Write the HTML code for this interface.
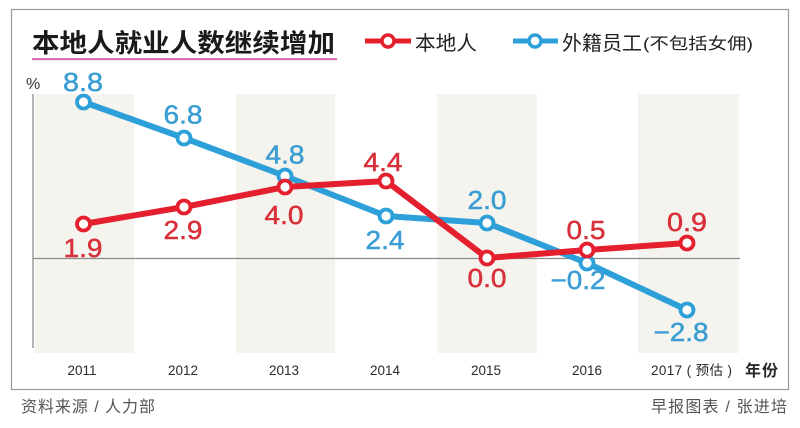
<!DOCTYPE html>
<html><head><meta charset="utf-8"><style>
html,body{margin:0;padding:0;background:#fff;}
svg{display:block;}
</style></head><body>
<svg width="800" height="428" viewBox="0 0 800 428" xmlns="http://www.w3.org/2000/svg">
<rect x="0" y="0" width="800" height="428" fill="#ffffff"/>
<rect x="11.5" y="9.5" width="777" height="380" fill="#fff" stroke="#9a9a9a" stroke-width="1.2"/>
<!-- bands -->
<g fill="#f4f3ee">
<rect x="35" y="94" width="99" height="259"/>
<rect x="236" y="94" width="99" height="259"/>
<rect x="437" y="94" width="100" height="259"/>
<rect x="638" y="94" width="101" height="259"/>
</g>
<!-- title -->
<text x="32" y="52" font-family="Liberation Sans, Noto Sans CJK SC, sans-serif" font-weight="bold" font-size="25.5" fill="#1a1a1a" textLength="303" lengthAdjust="spacingAndGlyphs">本地人就业人数继续增加</text>
<rect x="32" y="58" width="305" height="2.2" fill="#d772b8"/>
<!-- legend -->
<line x1="365" y1="41" x2="411" y2="41" stroke="#e4202e" stroke-width="5"/>
<circle cx="388" cy="41" r="6" fill="#fff" stroke="#e4202e" stroke-width="3.5"/>
<text x="415" y="50" font-family="Liberation Sans, Noto Sans CJK SC, sans-serif" font-size="20" fill="#222" textLength="62" lengthAdjust="spacingAndGlyphs">本地人</text>
<line x1="513" y1="41" x2="558" y2="41" stroke="#2d9fd9" stroke-width="5"/>
<circle cx="535" cy="41" r="6" fill="#fff" stroke="#2d9fd9" stroke-width="3.5"/>
<text x="562" y="50" font-family="Liberation Sans, Noto Sans CJK SC, sans-serif" font-size="20" fill="#222" textLength="80" lengthAdjust="spacingAndGlyphs">外籍员工</text>
<text x="643" y="49" font-family="Liberation Sans, Noto Sans CJK SC, sans-serif" font-size="16" fill="#222" textLength="110" lengthAdjust="spacingAndGlyphs">(不包括女佣)</text>
<!-- axis -->
<text x="26" y="89" font-family="Liberation Sans, sans-serif" font-size="16" fill="#333">%</text>
<line x1="33" y1="94" x2="33" y2="348" stroke="#999" stroke-width="1.5"/>
<line x1="33" y1="258.5" x2="740" y2="258.5" stroke="#8a8a8a" stroke-width="1.2"/>
<!-- blue series -->
<polyline points="83.5,102 184,138 285,176 386,216 487,223 587,263 687,310" fill="none" stroke="#2d9fd9" stroke-width="6" stroke-linejoin="round"/>
<g fill="#fff" stroke="#2d9fd9" stroke-width="3.8">
<circle cx="83.5" cy="102" r="6.5"/><circle cx="184" cy="138" r="6.5"/><circle cx="285" cy="176" r="6.5"/><circle cx="386" cy="216" r="6.5"/><circle cx="487" cy="223" r="6.5"/><circle cx="587" cy="263" r="6.5"/><circle cx="687" cy="310" r="6.5"/>
</g>
<!-- red series -->
<polyline points="83.5,224 184,207 285,187 386,181 487,258 587,250 687,243" fill="none" stroke="#e4202e" stroke-width="6" stroke-linejoin="round"/>
<g fill="#fff" stroke="#e4202e" stroke-width="3.8">
<circle cx="83.5" cy="224" r="6.5"/><circle cx="184" cy="207" r="6.5"/><circle cx="285" cy="187" r="6.5"/><circle cx="386" cy="181" r="6.5"/><circle cx="487" cy="258" r="6.5"/><circle cx="587" cy="250" r="6.5"/><circle cx="687" cy="243" r="6.5"/>
</g>
<!-- blue labels -->
<g font-family="Liberation Sans, sans-serif" font-size="26" fill="#3a9dd3" stroke="#3a9dd3" stroke-width="0.5" text-anchor="middle">
<text x="83" y="91" textLength="40" lengthAdjust="spacingAndGlyphs">8.8</text>
<text x="183" y="123.5" textLength="39" lengthAdjust="spacingAndGlyphs">6.8</text>
<text x="285" y="163.5" textLength="39" lengthAdjust="spacingAndGlyphs">4.8</text>
<text x="385" y="249" textLength="39" lengthAdjust="spacingAndGlyphs">2.4</text>
<text x="487" y="209" textLength="39" lengthAdjust="spacingAndGlyphs">2.0</text>
<text x="578" y="289" textLength="55" lengthAdjust="spacingAndGlyphs">−0.2</text>
<text x="681" y="341" textLength="55" lengthAdjust="spacingAndGlyphs">−2.8</text>
</g>
<!-- red labels -->
<g font-family="Liberation Sans, sans-serif" font-size="26" fill="#d8303b" stroke="#d8303b" stroke-width="0.5" text-anchor="middle">
<text x="83" y="257" textLength="39" lengthAdjust="spacingAndGlyphs">1.9</text>
<text x="183" y="239" textLength="39" lengthAdjust="spacingAndGlyphs">2.9</text>
<text x="284" y="224" textLength="39" lengthAdjust="spacingAndGlyphs">4.0</text>
<text x="383" y="171" textLength="39" lengthAdjust="spacingAndGlyphs">4.4</text>
<text x="487" y="287" textLength="39" lengthAdjust="spacingAndGlyphs">0.0</text>
<text x="586" y="239" textLength="39" lengthAdjust="spacingAndGlyphs">0.5</text>
<text x="687" y="231" textLength="40" lengthAdjust="spacingAndGlyphs">0.9</text>
</g>
<!-- year labels -->
<g font-family="Liberation Sans, Noto Sans CJK SC, sans-serif" font-size="13.5" fill="#2a2a2a" text-anchor="middle">
<text x="82" y="375">2011</text>
<text x="183" y="375">2012</text>
<text x="284" y="375">2013</text>
<text x="385" y="375">2014</text>
<text x="486" y="375">2015</text>
<text x="587" y="375">2016</text>
</g>
<text x="651" y="375" font-family="Liberation Sans, Noto Sans CJK SC, sans-serif" font-size="13.5" fill="#2a2a2a" textLength="81" lengthAdjust="spacing">2017 ( 预估 )</text>
<text x="745" y="376" font-family="Liberation Sans, Noto Sans CJK SC, sans-serif" font-size="16" font-weight="bold" fill="#2a2a2a" textLength="33" lengthAdjust="spacing">年份</text>
<!-- footer -->
<text x="21" y="412" font-family="Liberation Sans, Noto Sans CJK SC, sans-serif" font-size="16" fill="#555" textLength="134" lengthAdjust="spacing">资料来源 / 人力部</text>
<text x="651" y="412" font-family="Liberation Sans, Noto Sans CJK SC, sans-serif" font-size="16" fill="#555" textLength="136" lengthAdjust="spacing">早报图表 / 张进培</text>
</svg>
</body></html>
